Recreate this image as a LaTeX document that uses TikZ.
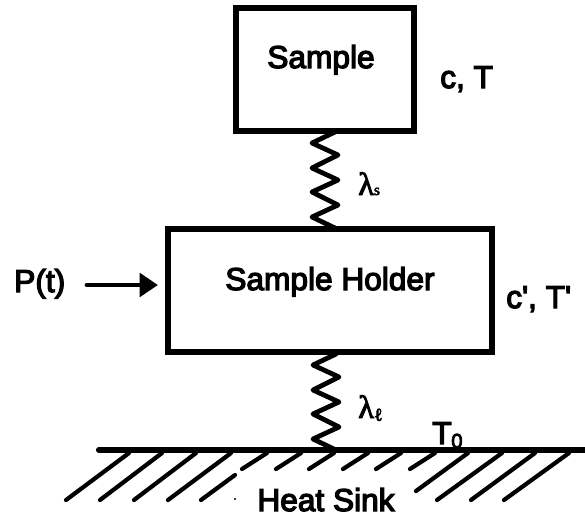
\documentclass[tikz,border=0pt]{standalone}
\usepackage{fontspec}
\setmainfont{Liberation Sans}
\newfontfamily\labelfont[FakeBold=4]{Liberation Sans}
\newfontfamily\lambdafont[FakeBold=3]{Liberation Serif}
\usetikzlibrary{positioning, arrows.meta}
\def\springpath{-- ++(-23,11) -- ++(26,12) -- ++(-26,13) -- ++(26,12) -- ++(-26,12) -- ++(26,13) -- ++(-26,12)}

\begin{document}
\begin{tikzpicture}[
    x=0.025cm, y=-0.025cm,
    box/.style={rectangle, draw=black, line width=4.2pt, inner sep=0pt},
    label/.style={font=\labelfont\fontsize{22.5}{24}\selectfont, inner sep=0pt},
    lambdatext/.style={font=\lambdafont\fontsize{23}{24}\selectfont, inner sep=0pt, anchor=base west},
    spring/.style={line width=3.4pt, line join=round, line cap=round},
    hatch/.style={line width=3pt, line cap=round},
    arrow/.style={-{Triangle[length=13pt, width=16.5pt]}, line width=3.4pt, line cap=round}
]
    \useasboundingbox (0,0) rectangle (585,516);

    % Boxes
    \node[box, minimum width=4.45cm, minimum height=3.075cm] (sample) at (325,69.5) {};
    \node[box, minimum width=8.1cm, minimum height=3.075cm] (holder) at (330,290.5) {};
    \node[label, anchor=base] (sampletext) at (321,68) {Sample};
    \node[label, anchor=base] (holdertext) at (330,290) {Sample Holder};
    \node[label, anchor=base west] (ctext) at (440,88) {c, T};
    \node[label, anchor=base west] (cprimetext) at (506,308) {c', T'};

    % Input
    \node[label, anchor=base west] (power) at (14,292) {P(t)};
    \coordinate (powerstart) at (87,285);
    \draw[arrow, shorten >=5pt] (powerstart) -- (holder.west |- powerstart);

    % Springs
    \coordinate (uppertop) at (335,132);
    \coordinate (upperbottom) at (335,228);
    \coordinate (lowertop) at (336,354);
    \coordinate (lowerbottom) at (336,450);
    \draw[spring] (uppertop) \springpath -- (upperbottom);
    \draw[spring] (lowertop) \springpath -- (lowerbottom);
    \node[lambdatext] (lambdas) at (358,195) {λ{\fontsize{11}{11}\selectfont s}};
    \node[lambdatext] (lambdal) at (358,418) {λ\raisebox{-2pt}{\fontsize{13}{13}\selectfont ℓ}};

    % Heat sink
    \coordinate (sinkleft) at (99,450);
    \coordinate (sinkright) at (585,450);
    \draw[line width=4.4pt, line cap=round] (sinkleft) -- (sinkright);
    \foreach \xa/\xb in {66/129, 100/162, 134/196, 168/231, 437/502, 471/535, 504/569}
        \draw[hatch] (\xa,500) -- (\xb,453);
    \foreach \xa in {242, 276, 309, 343, 376, 410}
        \draw[hatch] (\xa,469) -- (\xa+25,453);
    \draw[hatch] (201,500) -- (235,475);
    \draw[hatch] (416,491) -- (468,453);
    \node[label, anchor=base west] (sinktemp) at (432,444) {T};
    \node[label, anchor=base west, font=\labelfont\fontsize{14.5}{15}\selectfont] (sinktempsub) at (451,448) {0};
    \node[label, anchor=base] (sinktext) at (326,511) {Heat Sink};
    \fill (235,499) circle (1.2);
\end{tikzpicture}
\end{document}
